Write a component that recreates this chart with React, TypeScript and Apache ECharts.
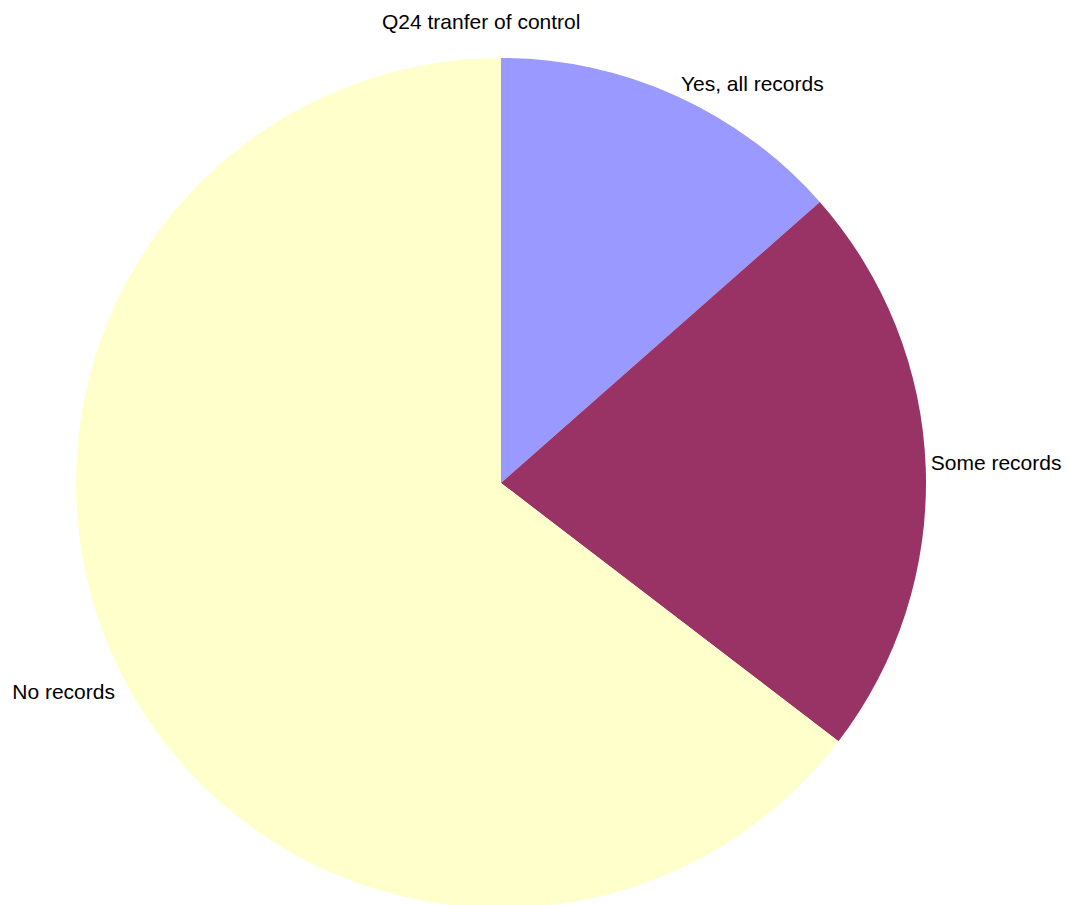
import React, { useEffect, useRef } from "react";
import * as echarts from "echarts";

const titleText = "Q24 tranfer of control";
const categories = ["Yes, all records", "Some records", "No records"];
const values = [13.5, 21.9, 64.6];
const colors = ["#9999FF", "#993366", "#FFFFCC"];
const labelNudgeY = [-12, -6, 20];

export default function App() {
  const ref = useRef<HTMLDivElement>(null);
  useEffect(() => {
    if (!ref.current) return;
    const chart = echarts.init(ref.current, null, { renderer: "svg" });
    chart.setOption({
      animation: false,
      backgroundColor: "#ffffff",
      title: {
        text: titleText,
        left: 382,
        top: 11,
        padding: 0,
        textStyle: {
          fontFamily: "Liberation Sans, Arial, sans-serif",
          fontSize: 21,
          fontWeight: "normal",
          color: "#000000",
        },
      },
      series: [
        {
          type: "pie",
          center: [501, 483],
          radius: [0, 425],
          startAngle: 90,
          clockwise: true,
          avoidLabelOverlap: false,
          itemStyle: { borderWidth: 0 },
          emphasis: { disabled: true },
          label: {
            show: true,
            position: "outside",
            fontFamily: "Liberation Sans, Arial, sans-serif",
            fontSize: 21,
            color: "#000000",
            distanceToLabelLine: 5,
          },
          labelLine: { show: false, length: 0, length2: 0 },
          labelLayout: (params: any) => ({ dy: labelNudgeY[params.dataIndex] }),
          data: categories.map((name, i) => ({
            name,
            value: values[i],
            itemStyle: { color: colors[i] },
          })),
        },
      ],
    });
    return () => chart.dispose();
  }, []);
  return (
    <div
      ref={ref}
      style={{ position: "fixed", left: 0, top: 0, width: 1068, height: 905 }}
    />
  );
}
